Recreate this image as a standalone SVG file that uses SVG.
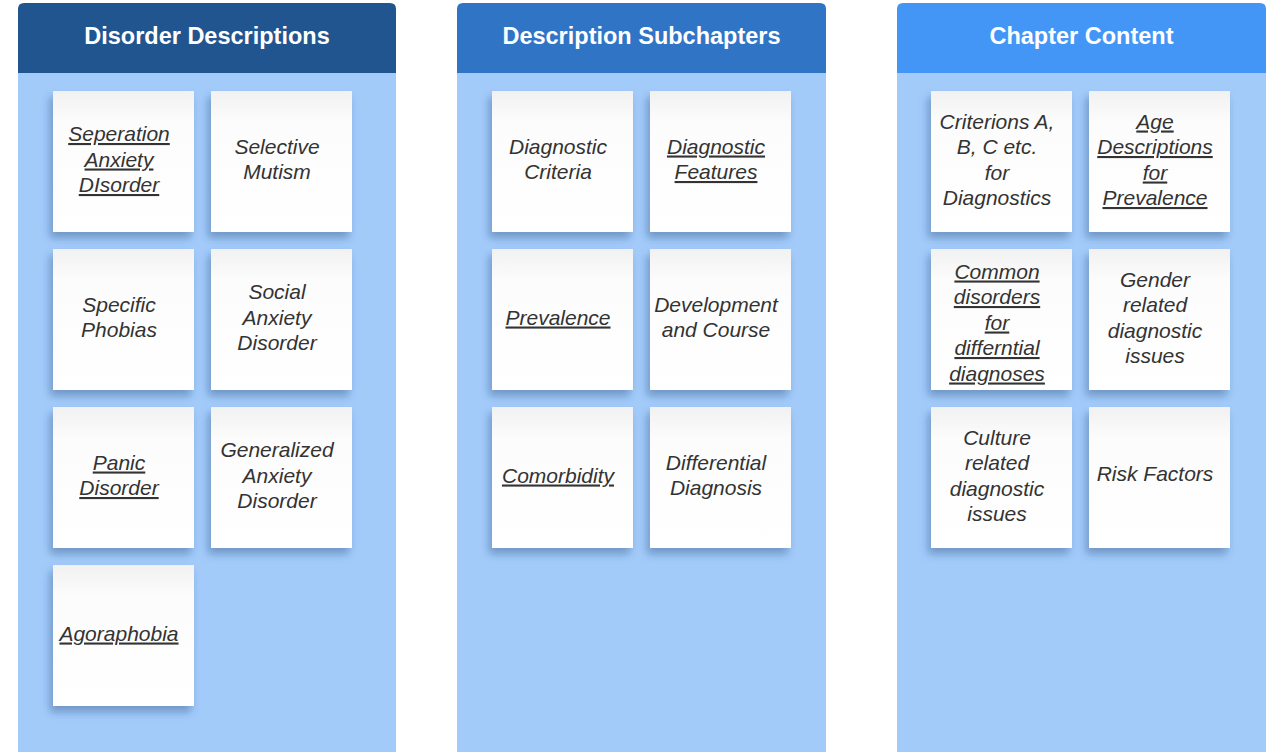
<svg xmlns="http://www.w3.org/2000/svg" width="1268" height="752" viewBox="0 0 1268 752">
<defs>
<linearGradient id="paper" x1="0" y1="0" x2="0" y2="1">
<stop offset="0" stop-color="#f1f1f1"/>
<stop offset="0.22" stop-color="#fcfcfc"/>
<stop offset="1" stop-color="#ffffff"/>
</linearGradient>
<filter id="shadow" x="-20%" y="-20%" width="140%" height="150%">
<feDropShadow dx="-3" dy="6" stdDeviation="4.5" flood-color="#1c3f72" flood-opacity="0.38"/>
</filter>
</defs>
<style>
.body{fill:#a3cbfa}
.hd{font-family:"Liberation Sans",Arial,sans-serif;font-weight:bold;font-size:23.5px;fill:#ffffff;text-anchor:middle}
.note rect{fill:url(#paper);filter:url(#shadow)}
.note text{font-family:"Liberation Sans",Arial,sans-serif;font-style:italic;font-size:21px;fill:#333333;text-anchor:middle}
.u{text-decoration:underline}
</style>
<rect width="1268" height="752" fill="#ffffff"/>

<g id="col1">
<rect class="body" x="18" y="60" width="378" height="692"/>
<path d="M18,73 V9 Q18,3 24,3 H390 Q396,3 396,9 V73 Z" fill="#21558f"/>
<text class="hd" x="207" y="43.5">Disorder Descriptions</text>
</g>
<g id="col2">
<rect class="body" x="457" y="60" width="369" height="692"/>
<path d="M457,73 V9 Q457,3 463,3 H820 Q826,3 826,9 V73 Z" fill="#3074c6"/>
<text class="hd" x="641.5" y="43.5">Description Subchapters</text>
</g>
<g id="col3">
<rect class="body" x="897" y="60" width="369" height="692"/>
<path d="M897,73 V9 Q897,3 903,3 H1260 Q1266,3 1266,9 V73 Z" fill="#4396f6"/>
<text class="hd" x="1081.5" y="43.5">Chapter Content</text>
</g>

<g id="n-separation" class="note"><rect x="53" y="91" width="141" height="141"/>
<text class="u" x="119" y="141">Seperation</text><text class="u" x="119" y="166.5">Anxiety</text><text class="u" x="119" y="192">DIsorder</text></g>
<g id="n-selective" class="note"><rect x="211" y="91" width="141" height="141"/>
<text x="277" y="153.5">Selective</text><text x="277" y="179">Mutism</text></g>
<g id="n-specific" class="note"><rect x="53" y="249" width="141" height="141"/>
<text x="119" y="311.5">Specific</text><text x="119" y="337">Phobias</text></g>
<g id="n-social" class="note"><rect x="211" y="249" width="141" height="141"/>
<text x="277" y="299">Social</text><text x="277" y="324.5">Anxiety</text><text x="277" y="350">Disorder</text></g>
<g id="n-panic" class="note"><rect x="53" y="407" width="141" height="141"/>
<text class="u" x="119" y="469.5">Panic</text><text class="u" x="119" y="495">Disorder</text></g>
<g id="n-generalized" class="note"><rect x="211" y="407" width="141" height="141"/>
<text x="277" y="457">Generalized</text><text x="277" y="482.5">Anxiety</text><text x="277" y="508">Disorder</text></g>
<g id="n-agoraphobia" class="note"><rect x="53" y="565" width="141" height="141"/>
<text class="u" x="119" y="640.5">Agoraphobia</text></g>

<g id="n-diagcriteria" class="note"><rect x="492" y="91" width="141" height="141"/>
<text x="558" y="153.5">Diagnostic</text><text x="558" y="179">Criteria</text></g>
<g id="n-diagfeatures" class="note"><rect x="650" y="91" width="141" height="141"/>
<text class="u" x="716" y="153.5">Diagnostic</text><text class="u" x="716" y="179">Features</text></g>
<g id="n-prevalence" class="note"><rect x="492" y="249" width="141" height="141"/>
<text class="u" x="558" y="324.5">Prevalence</text></g>
<g id="n-development" class="note"><rect x="650" y="249" width="141" height="141"/>
<text x="716" y="311.5">Development</text><text x="716" y="337">and Course</text></g>
<g id="n-comorbidity" class="note"><rect x="492" y="407" width="141" height="141"/>
<text class="u" x="558" y="482.5">Comorbidity</text></g>
<g id="n-differential" class="note"><rect x="650" y="407" width="141" height="141"/>
<text x="716" y="469.5">Differential</text><text x="716" y="495">Diagnosis</text></g>

<g id="n-criterions" class="note"><rect x="931" y="91" width="141" height="141"/>
<text x="997" y="128.5">Criterions A,</text><text x="997" y="154">B, C etc.</text><text x="997" y="179.5">for</text><text x="997" y="205">Diagnostics</text></g>
<g id="n-age" class="note"><rect x="1089" y="91" width="141" height="141"/>
<text class="u" x="1155" y="128.5">Age</text><text class="u" x="1155" y="154">Descriptions</text><text class="u" x="1155" y="179.5">for</text><text class="u" x="1155" y="205">Prevalence</text></g>
<g id="n-common" class="note"><rect x="931" y="249" width="141" height="141"/>
<text class="u" x="997" y="278.5">Common</text><text class="u" x="997" y="304">disorders</text><text class="u" x="997" y="329.5">for</text><text class="u" x="997" y="355">differntial</text><text class="u" x="997" y="380.5">diagnoses</text></g>
<g id="n-gender" class="note"><rect x="1089" y="249" width="141" height="141"/>
<text x="1155" y="286.5">Gender</text><text x="1155" y="312">related</text><text x="1155" y="337.5">diagnostic</text><text x="1155" y="363">issues</text></g>
<g id="n-culture" class="note"><rect x="931" y="407" width="141" height="141"/>
<text x="997" y="444.5">Culture</text><text x="997" y="470">related</text><text x="997" y="495.5">diagnostic</text><text x="997" y="521">issues</text></g>
<g id="n-risk" class="note"><rect x="1089" y="407" width="141" height="141"/>
<text x="1155" y="481">Risk Factors</text></g>

<g id="connectors"></g>
</svg>
